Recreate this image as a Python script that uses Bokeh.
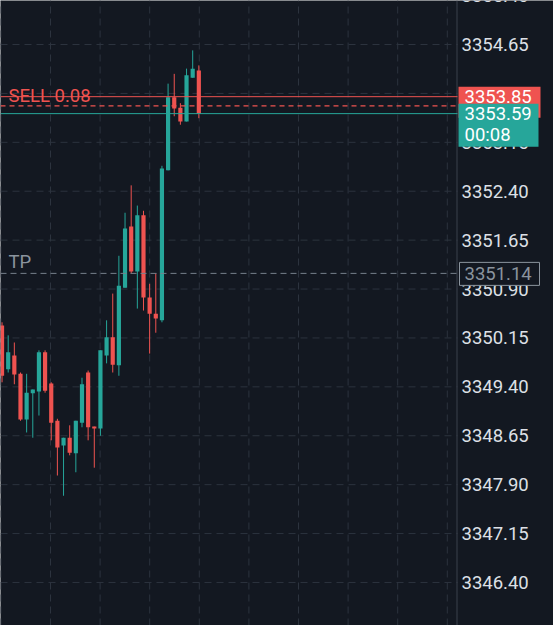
from bokeh.plotting import figure
from bokeh.models import Range1d, ColumnDataSource
from bokeh.core.properties import value
from bokeh.embed import file_html
from bokeh.resources import INLINE

# ---- data ----
opens = [3350.34, 3349.67, 3349.88, 3349.60, 3348.90, 3349.30, 3349.33, 3349.93,
         3349.45, 3348.88, 3348.50, 3348.62, 3348.38, 3348.85, 3349.62, 3348.79,
         3348.76, 3349.88, 3350.16, 3349.73, 3350.92, 3351.86, 3351.17, 3352.03,
         3350.77, 3350.52, 3350.42, 3352.72, 3353.84, 3353.68, 3353.47, 3354.14,
         3354.25]
highs = [3350.39, 3350.19, 3350.08, 3349.62, 3349.60, 3349.36, 3349.96, 3349.96,
         3349.47, 3348.91, 3348.62, 3348.81, 3348.88, 3349.54, 3349.65, 3348.79,
         3349.96, 3350.42, 3350.83, 3351.41, 3352.07, 3352.49, 3352.18, 3352.10,
         3350.98, 3351.14, 3352.79, 3354.05, 3354.20, 3353.75, 3354.28, 3354.56,
         3354.33]
lows = [3349.47, 3349.62, 3349.44, 3348.88, 3348.70, 3348.62, 3348.96, 3349.31,
        3348.58, 3348.04, 3347.73, 3348.35, 3348.09, 3348.78, 3348.58, 3348.16,
        3348.65, 3349.76, 3349.62, 3349.57, 3350.92, 3351.14, 3350.60, 3350.57,
        3349.91, 3350.23, 3350.39, 3352.72, 3353.55, 3353.42, 3353.47, 3354.14,
        3353.52]
closes = [3349.57, 3349.93, 3349.59, 3348.90, 3349.31, 3349.36, 3349.93, 3349.34,
          3348.85, 3348.47, 3348.62, 3348.39, 3348.88, 3349.44, 3348.78, 3348.76,
          3349.96, 3350.16, 3349.74, 3350.95, 3351.83, 3351.17, 3352.03, 3350.77,
          3350.52, 3350.45, 3352.75, 3353.84, 3353.67, 3353.47, 3354.18, 3354.28,
          3353.59]

y_ticks = [3345.65, 3346.40, 3347.15, 3347.90, 3348.65, 3349.40, 3350.15,
           3350.90, 3351.65, 3352.40, 3353.15, 3353.90, 3354.65, 3355.40]

sell_price = 3353.85
sell_label = "SELL 0.08"
ask_price = 3353.71
current_price = 3353.59
countdown = "00:08"
tp_price = 3351.14
tp_label = "TP"

# ---- styles / layout ----
BG = "#131821"
UP = "#26a69a"
DOWN = "#ef5350"
GRID = "#2c333e"
TXT = "#dde0e6"
GRAY = "#8b949e"
FONT = value("Roboto")
FS = value("18.5px")

W, H = 553, 625
PANE_W = 457                  # width of the candle pane, the price scale sits right of it
BAR_PX = 6.15                 # pixel distance between candles
x0 = -0.25
x1 = x0 + W / BAR_PX
ylo, yhi = 3345.74, 3355.325
ppu = H / (yhi - ylo)         # pixels per price unit


def px2x(px):
    return x0 + px / BAR_PX


def dp(px):
    return px / ppu


n = len(opens)
colors = [UP if c >= o else DOWN for o, c in zip(opens, closes)]
src = ColumnDataSource(dict(
    x=list(range(n)), high=highs, low=lows,
    top=[max(o, c) for o, c in zip(opens, closes)],
    bottom=[min(o, c) for o, c in zip(opens, closes)],
    color=colors))

p = figure(width=W, height=H, output_backend="svg", toolbar_location=None,
           x_range=Range1d(x0, x1), y_range=Range1d(ylo, yhi),
           x_axis_location=None, y_axis_location=None,
           min_border=0, background_fill_color=BG, border_fill_color=BG,
           outline_line_color=None)
p.grid.visible = False

# grid of the candle pane
grid_px = [0.4 + 49.6 * k for k in range(10)]
gx = [px2x(g) for g in grid_px]
p.segment(x0=gx, x1=gx, y0=[ylo] * len(gx), y1=[yhi] * len(gx),
          line_color=GRID, line_width=1, line_dash="7 5")
p.segment(x0=[px2x(0)] * len(y_ticks), x1=[px2x(PANE_W)] * len(y_ticks),
          y0=y_ticks, y1=y_ticks, line_color=GRID, line_width=1, line_dash="7 5")

# price-scale border and tick labels
p.segment(x0=[px2x(PANE_W - 0.5)], x1=[px2x(PANE_W - 0.5)], y0=[ylo], y1=[yhi],
          line_color="#3a414c", line_width=1)
p.text(x=[px2x(461)] * len(y_ticks), y=y_ticks, text=[f"{t:.2f}" for t in y_ticks],
       text_font=FONT, text_font_size=FS, text_color=TXT,
       text_baseline="middle", text_align="left")

# candles
p.segment(x0="x", y0="high", x1="x", y1="low", color="color", line_width=1, source=src)
p.vbar(x="x", width=0.68, top="top", bottom="bottom", fill_color="color",
       line_color=None, source=src)

# order / price lines
lx0, lx1 = px2x(0), px2x(PANE_W)
p.segment(x0=[lx0], x1=[lx1], y0=[sell_price], y1=[sell_price], line_color=DOWN, line_width=1)
p.segment(x0=[lx0], x1=[lx1], y0=[ask_price], y1=[ask_price], line_color=DOWN,
          line_width=1.2, line_dash="5 4")
p.segment(x0=[lx0], x1=[lx1], y0=[current_price], y1=[current_price], line_color=UP,
          line_width=1)
p.segment(x0=[lx0], x1=[lx1], y0=[tp_price], y1=[tp_price], line_color="#77808b",
          line_width=1, line_dash="6 4")

p.text(x=[px2x(8)], y=[sell_price + dp(1)], text=[sell_label], text_font=FONT,
       text_font_size=FS, text_color=DOWN, text_baseline="middle")
p.text(x=[px2x(8)], y=[tp_price + dp(11.5)], text=[tp_label], text_font=FONT,
       text_font_size=FS, text_color=GRAY, text_baseline="middle")

# price boxes on the scale
p.quad(left=[px2x(458)], right=[px2x(540)], top=[sell_price + dp(10)],
       bottom=[sell_price - dp(21)], fill_color=DOWN, line_color=None)
p.quad(left=[px2x(458)], right=[px2x(538)], top=[current_price + dp(10)],
       bottom=[current_price - dp(33)], fill_color=UP, line_color=None)
p.quad(left=[px2x(459)], right=[px2x(539)], top=[tp_price + dp(11)],
       bottom=[tp_price - dp(12)], fill_color=BG, line_color=GRAY, line_width=1)

p.text(x=[px2x(464)], y=[sell_price], text=[f"{sell_price:.2f}"], text_font=FONT,
       text_font_size=FS, text_color="white", text_baseline="middle")
p.text(x=[px2x(464)], y=[current_price], text=[f"{current_price:.2f}"], text_font=FONT,
       text_font_size=FS, text_color="white", text_baseline="middle")
p.text(x=[px2x(464)], y=[current_price - dp(21)], text=[countdown], text_font=FONT,
       text_font_size=FS, text_color="white", text_baseline="middle")
p.text(x=[px2x(464)], y=[tp_price], text=[f"{tp_price:.2f}"], text_font=FONT,
       text_font_size=FS, text_color=GRAY, text_baseline="middle")

open("out.html", "w").write(file_html(p, INLINE))
